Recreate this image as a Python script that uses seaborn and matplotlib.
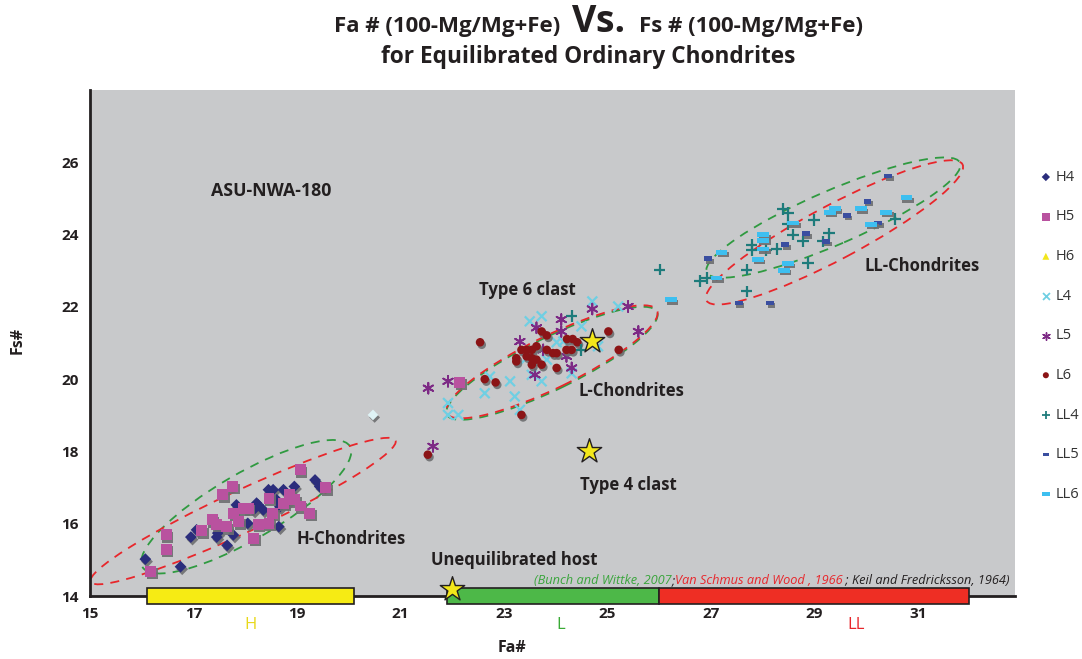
import numpy as np
import pandas as pd
import matplotlib
matplotlib.use("Agg")
import matplotlib.pyplot as plt
import matplotlib.patheffects as pe
from matplotlib.patches import Ellipse
from matplotlib.transforms import ScaledTranslation
import seaborn as sns

# ---------------- data ----------------
h4_fa = [16.07, 16.75, 16.95, 17.06, 17.45, 17.47, 17.65, 17.77, 17.83, 18.05, 18.16, 18.25,
         18.35, 18.45, 18.54, 18.61, 18.65, 18.74, 18.95, 19.35, 19.44, 18.67, 18.80, 18.22]
h4_fs = [15.02, 14.81, 15.63, 15.83, 15.63, 15.74, 15.40, 15.69, 16.52, 16.01, 16.38, 16.52,
         16.38, 16.94, 16.94, 16.66, 15.92, 16.94, 17.03, 17.21, 17.03, 16.47, 16.58, 16.57]

h5_fa = [19.06, 17.76, 17.56, 16.47, 16.47, 16.17, 17.16, 17.36, 17.45, 17.64, 17.77, 17.87,
         17.96, 18.06, 18.16, 18.25, 18.46, 18.46, 18.53, 18.74, 18.86, 18.96, 19.06, 19.25,
         19.55, 22.14]
h5_fs = [17.49, 17.03, 16.80, 15.69, 15.29, 14.69, 15.81, 16.11, 15.99, 15.92, 16.29, 16.06,
         16.43, 16.43, 15.60, 15.99, 16.71, 16.01, 16.29, 16.57, 16.80, 16.66, 16.49, 16.29,
         17.00, 19.91]

h6_fa = []
h6_fs = []

l4_fa = [23.50, 23.73, 24.71, 25.21, 24.50, 24.02, 24.15, 23.83, 23.44, 23.54, 23.73, 23.12,
         22.73, 22.63, 23.21, 23.31, 21.92, 21.92, 22.12, 24.31, 24.82]
l4_fs = [21.60, 21.74, 22.15, 22.01, 21.46, 21.02, 21.04, 20.54, 20.58, 20.12, 19.94, 19.94,
         20.07, 19.61, 19.52, 19.15, 19.34, 19.01, 19.01, 20.16, 20.91]

l5_fa = [24.71, 25.40, 25.60, 24.11, 24.11, 23.63, 23.31, 24.21, 24.31, 23.60, 23.76, 21.92,
         21.54, 21.63]
l5_fs = [21.94, 22.01, 21.32, 21.65, 21.32, 21.42, 21.04, 20.63, 20.31, 20.12, 20.81, 19.94,
         19.75, 18.14]

l6_fa = [22.54, 23.73, 23.83, 24.22, 24.33, 24.42, 25.02, 25.22, 23.34, 23.44, 23.54, 23.63,
         23.83, 23.95, 24.02, 24.21, 24.31, 23.24, 23.24, 23.44, 23.54, 23.63, 23.54, 23.73,
         24.02, 22.63, 22.84, 23.34, 21.53]
l6_fs = [21.02, 21.32, 21.21, 21.11, 21.11, 21.02, 21.32, 20.81, 20.81, 20.81, 20.81, 20.91,
         20.81, 20.72, 20.72, 20.81, 20.81, 20.58, 20.49, 20.63, 20.58, 20.54, 20.40, 20.40,
         20.31, 20.00, 19.91, 19.01, 17.91]

ll4_fa = [28.40, 28.49, 28.49, 28.59, 28.78, 28.99, 29.29, 29.17, 28.88, 27.79, 27.79, 28.07,
          28.27, 27.69, 30.57, 27.69, 26.79, 26.92, 26.01, 24.31, 24.50]
ll4_fs = [24.71, 24.60, 24.28, 24.00, 23.81, 24.41, 24.03, 23.81, 23.22, 23.72, 23.58, 23.58,
          23.60, 23.03, 24.43, 22.43, 22.71, 22.80, 23.03, 21.74, 20.81]

ll5_fa = [30.43, 30.03, 29.63, 28.84, 28.44, 29.23, 30.23, 26.95, 27.54, 28.14]
ll5_fs = [25.62, 24.92, 24.53, 24.02, 23.72, 23.81, 24.32, 23.33, 22.11, 22.11]

ll6_fa = [30.78, 30.39, 29.90, 29.30, 29.40, 28.59, 28.01, 28.01, 28.01, 27.91, 27.21, 28.49,
          28.41, 27.11, 30.10, 26.23]
ll6_fs = [25.02, 24.62, 24.71, 24.62, 24.71, 24.32, 24.00, 23.84, 23.60, 23.31, 23.51, 23.20,
          23.01, 22.80, 24.29, 22.20]

other_fa = [20.47]
other_fs = [19.01]

star_fa = [24.70, 24.64, 22.00]
star_fs = [21.06, 18.02, 14.20]

range_names = ["H", "L", "LL"]
range_lo = [16.1, 21.9, 26.0]
range_hi = [20.1, 26.0, 32.0]
range_label_x = [18.1, 24.1, 29.8]

x_ticks = [15, 17, 19, 21, 23, 25, 27, 29, 31]
y_ticks = [14, 16, 18, 20, 22, 24, 26]

citation = [("(Bunch and Wittke, 2007", "#3aa53c"), (";", "#231f20"),
             ("Van Schmus and Wood , 1966", "#e8262b"), (" ; Keil and Fredricksson, 1964)", "#231f20")]

# ---------------- style ----------------
sns.set_style("white")
FONT = ["Open Sans", "DejaVu Sans"]
plt.rcParams["font.family"] = FONT
TXT = "#231f20"

fig = plt.figure(figsize=(10.82, 6.59), dpi=100)
ax = fig.add_axes([90 / 1082, 63 / 659, 925 / 1082, 506 / 659])
ax.set_facecolor("#c8c9cb")
ax.set_xlim(15, 32.88)
ax.set_ylim(14, 28)

shadow = [pe.SimplePatchShadow(offset=(1.2, -1.8), shadow_rgbFace="#6d6e70", alpha=0.9), pe.Normal()]

rect_small = [(-1, -0.6), (1, -0.6), (1, 0.6), (-1, 0.6), (-1, -0.6)]
rect_wide = [(-1, -0.42), (1, -0.42), (1, 0.42), (-1, 0.42), (-1, -0.42)]

series = [
    ("H4", h4_fa, h4_fs, "D", "#2b2d7c", 36, 0.0),
    ("H5", h5_fa, h5_fs, "s", "#b9529f", 62, 0.0),
    ("H6", h6_fa, h6_fs, "^", "#f2e61c", 50, 0.0),
    ("L4", l4_fa, l4_fs, "x", "#6fcfe3", 50, 1.6),
    ("L5", l5_fa, l5_fs, (6, 2, 0), "#7d2a85", 60, 1.3),
    ("L6", l6_fa, l6_fs, "o", "#8b1416", 38, 0.0),
    ("LL4", ll4_fa, ll4_fs, "+", "#1e7b7b", 70, 1.6),
    ("LL5", ll5_fa, ll5_fs, rect_small, "#3a4ea0", 32, 0.0),
    ("LL6", ll6_fa, ll6_fs, rect_wide, "#3dbff0", 70, 0.0),
]

handles = []
for name, xs, ys, mk, col, size, lw in series:
    df = pd.DataFrame({"Fa": xs, "Fs": ys})
    line_marker = mk in ("x", "+") or isinstance(mk, tuple)
    kws = dict(marker=mk, s=size, color=col, zorder=3)
    if line_marker:
        kws.update(linewidth=lw, edgecolor=col)
    else:
        kws.update(edgecolor="none", linewidth=0)
    if len(df):
        sns.scatterplot(data=df, x="Fa", y="Fs", ax=ax, legend=False, **kws)
        ax.collections[-1].set_path_effects(shadow)
    h = ax.scatter([], [], marker=mk, s=size * 0.5, color=col,
                   linewidths=lw * 0.8 if line_marker else 0,
                   edgecolors=col if line_marker else "none", label=name)
    handles.append(h)

sns.scatterplot(x=other_fa, y=other_fs, ax=ax, marker="D", s=30, color="#dff3f6",
                edgecolor="none", legend=False, zorder=3)
ax.collections[-1].set_path_effects(shadow)

# stars
sns.scatterplot(x=star_fa, y=star_fs, ax=ax, marker="*", s=340, color="#f3e71a",
                edgecolor="#231f20", linewidth=1.0, legend=False, zorder=6)
ax.collections[-1].set_clip_on(False)

# ellipses (sizes in pixels, centres in data)
def ellipse(cx, cy, a_px, b_px, ang, color, dy_px=0.0):
    tr = fig.dpi_scale_trans + ScaledTranslation(cx, cy, ax.transData)
    e = Ellipse((0, dy_px / 100), 2 * a_px / 100, 2 * b_px / 100, angle=ang,
                transform=tr, fill=False, edgecolor=color, linewidth=1.3,
                linestyle=(0, (5, 4)), zorder=2)
    ax.add_patch(e)

RED = "#e8262b"
GREEN = "#2f9a40"
ellipse(18.02, 16.47, 120, 33, 30.2, GREEN)
ellipse(17.96, 16.35, 168, 21, 24.9, RED)
ellipse(23.93, 20.48, 117, 26, 26.1, GREEN, dy_px=-1.5)
ellipse(23.93, 20.48, 117, 26, 26.1, RED)
ellipse(29.37, 24.47, 138, 27, 23.4, GREEN)
ellipse(29.39, 24.06, 145, 27, 28.0, RED)

# range bars
bar_cols = ["#f6eb14", "#4db848", "#ee2e24"]
bar_txt = ["#e8d81a", "#3aaa35", "#e8262b"]
bars = ax.barh([14] * 3, np.array(range_hi) - np.array(range_lo), left=range_lo, height=0.42,
               color=bar_cols, edgecolor="#231f20", linewidth=1.2, zorder=5)
for b in bars:
    b.set_clip_on(False)
for name, lx, c in zip(range_names, range_label_x, bar_txt):
    ax.text(lx, 13.2, name, color=c, fontsize=12, ha="center", va="center", clip_on=False)

# annotations
bold = dict(fontweight="bold", color=TXT, fontsize=12)
ax.text(18.5, 25.2, "ASU-NWA-180", ha="center", va="center", fontweight="bold", color=TXT,
        fontsize=12.8)
ax.text(23.46, 22.48, "Type 6 clast", ha="center", va="center", **bold)
ax.text(25.47, 19.68, "L-Chondrites", ha="center", va="center", **bold)
ax.text(25.40, 17.07, "Type 4 clast", ha="center", va="center", **bold)
ax.text(20.04, 15.58, "H-Chondrites", ha="center", va="center", **bold)
ax.text(31.08, 23.14, "LL-Chondrites", ha="center", va="center", **bold)
ax.text(23.21, 15.0, "Unequilibrated host", ha="center", va="center", **bold)

# citation line: pieces laid one after another, fitted between x px 534 and 1005
fig.canvas.draw()
renderer = fig.canvas.get_renderer()
cit_x0_px, cit_x1_px, cit_y = 534, 1005, 14.32
fs = 8.5
for it in range(2):
    pieces = []
    xd = ax.transData.inverted().transform((cit_x0_px, 0))[0]
    for txt, col in citation:
        t = ax.text(xd, cit_y, txt, color=col, fontsize=fs, style="italic", va="baseline",
                    ha="left", clip_on=False)
        bb = t.get_window_extent(renderer)
        xd = ax.transData.inverted().transform((bb.x1, 0))[0]
        pieces.append((t, bb))
    total = pieces[-1][1].x1 - cit_x0_px
    if it == 0:
        for t, _bb in pieces:
            t.remove()
        fs = fs * (cit_x1_px - cit_x0_px) / total

# axes
ax.set_xticks(x_ticks)
ax.set_yticks(y_ticks)
ax.set_xticklabels([str(v) for v in x_ticks], fontweight="bold", fontsize=11, color=TXT)
ax.set_yticklabels([str(v) for v in y_ticks], fontweight="bold", fontsize=11, color=TXT)
ax.tick_params(axis="both", direction="out", length=3, width=1, color=TXT, pad=5)
for s in ["top", "right"]:
    ax.spines[s].set_visible(False)
for s in ["left", "bottom"]:
    ax.spines[s].set_color("#231f20")
    ax.spines[s].set_linewidth(2)
ax.set_xlabel("")
ax.set_ylabel("")
fig.text(512 / 1082, 1 - 648 / 659, "Fa#", ha="center", va="center", fontweight="bold",
         fontsize=11.5, color=TXT)
fig.text(18 / 1082, 1 - 340 / 659, "Fs#", ha="center", va="center", rotation=90,
         fontweight="bold", fontsize=11.5, color=TXT)

# title
fig.text(560 / 1082, 1 - 32 / 659, "Fa # (100-Mg/Mg+Fe)", ha="right", va="baseline",
         fontweight="bold", fontsize=16, color=TXT)
fig.text(599 / 1082, 1 - 32 / 659, "Vs.", ha="center", va="baseline",
         fontweight="bold", fontsize=27, color=TXT)
fig.text(639 / 1082, 1 - 32 / 659, "Fs # (100-Mg/Mg+Fe)", ha="left", va="baseline",
         fontweight="bold", fontsize=16, color=TXT)
fig.text(588 / 1082, 1 - 63 / 659, "for Equilibrated Ordinary Chondrites", ha="center",
         va="baseline", fontweight="bold", fontsize=16.3, color=TXT)

# legend
leg = fig.legend(handles=handles, loc="upper left", bbox_to_anchor=(1032 / 1082, 1 - 164 / 659),
                 frameon=False, fontsize=10.5, labelspacing=1.69, handletextpad=0.15,
                 handlelength=1.1, borderaxespad=0)
for t in leg.get_texts():
    t.set_color("#333333")

fig.savefig("out.png", dpi=100, facecolor="white")
